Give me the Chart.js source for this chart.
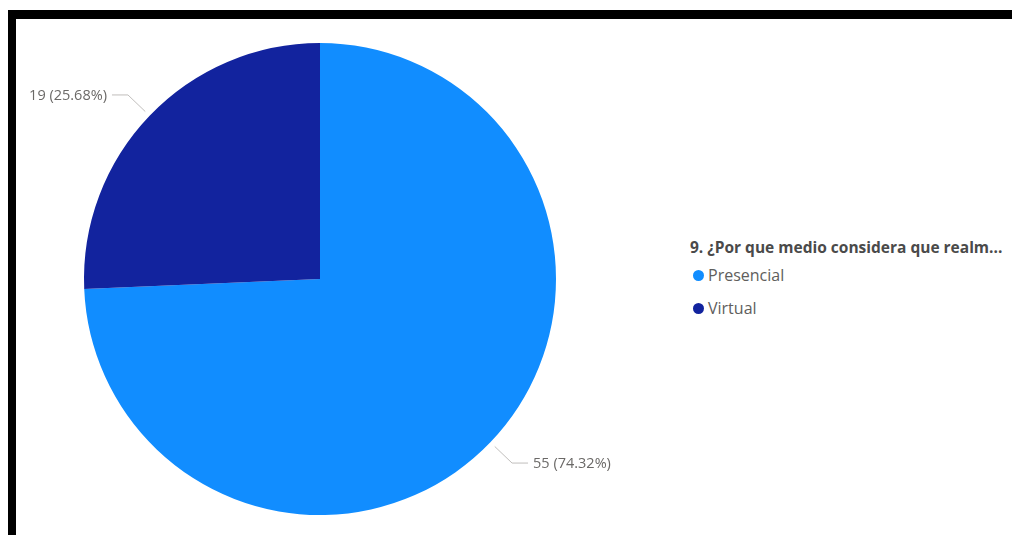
<!DOCTYPE html>
<html>
<head>
<meta charset="utf-8">
<script src="https://cdn.jsdelivr.net/npm/chart.js@4/dist/chart.umd.min.js"></script>
<style>
  html, body { margin: 0; padding: 0; background: #fff; overflow: hidden; }
  body { width: 1012px; height: 535px; position: relative; font-family: "Open Sans", "Noto Sans", sans-serif; }
  .frame { position: absolute; left: 8px; top: 10px; width: 1100px; height: 600px;
           border-top: 9px solid #000; border-left: 8px solid #000; box-sizing: border-box; }
  #wrap { position: absolute; left: 0; top: 0; width: 640px; height: 535px; }
  #legend { position: absolute; left: 690px; top: 237px; white-space: nowrap; }
  #legend .title { font-weight: 700; font-size: 15.5px; color: #4a4a4a; margin-bottom: 6px; line-height: 21px; }
  #legend .item { font-size: 16px; color: #605e5c; height: 33px; line-height: 22px; display: flex; align-items: flex-start; }
  #legend .dot { width: 11px; height: 11px; border-radius: 50%; margin: 6px 4px 0 3px; }
</style>
</head>
<body>
<div class="frame"></div>
<div id="wrap"><canvas id="pie"></canvas></div>
<div id="legend"></div>
<script>
  const legendTitle = '9. ¿Por que medio considera que realm...';
  const categories = ['Presencial', 'Virtual'];
  const counts = [55, 19];
  const colors = ['#118dff', '#12239e'];

  const total = counts.reduce((a, b) => a + b, 0);
  const pct = (v) => (v / total * 100).toFixed(2) + '%';

  // Outside labels with a short elbow leader, placed from each arc's own geometry.
  const leaderLabels = {
    id: 'leaderLabels',
    afterDatasetsDraw(chart) {
      const ctx = chart.ctx;
      const meta = chart.getDatasetMeta(0);
      ctx.save();
      ctx.font = '14.5px "Open Sans", "Noto Sans", sans-serif';
      ctx.textBaseline = 'middle';
      meta.data.forEach((arc, i) => {
        const { x, y, startAngle, endAngle, outerRadius } = arc.getProps(['x', 'y', 'startAngle', 'endAngle', 'outerRadius'], true);
        const mid = (startAngle + endAngle) / 2;
        const cos = Math.cos(mid), sin = Math.sin(mid);
        const x0 = x + cos * (outerRadius + 6), y0 = y + sin * (outerRadius + 6);
        const x1 = x + cos * (outerRadius + 30), y1 = y + sin * (outerRadius + 30);
        const dir = cos >= 0 ? 1 : -1;
        const x2 = x1 + dir * 16;
        ctx.strokeStyle = '#c0bebc';
        ctx.lineWidth = 1;
        ctx.beginPath();
        ctx.moveTo(x0, y0);
        ctx.lineTo(x1, y1);
        ctx.lineTo(x2, y1);
        ctx.stroke();
        ctx.fillStyle = '#6b6967';
        ctx.textAlign = dir > 0 ? 'left' : 'right';
        ctx.fillText(`${counts[i]} (${pct(counts[i])})`, x2 + dir * 5, y1 + 1);
      });
      ctx.restore();
    },
  };

  const chart = new Chart(document.getElementById('pie'), {
    type: 'pie',
    data: {
      labels: categories,
      datasets: [{
        data: counts,
        backgroundColor: colors,
        borderWidth: 0,
      }],
    },
    options: {
      responsive: true,
      maintainAspectRatio: false,
      animation: false,
      layout: { padding: { top: 43, bottom: 20, left: 84, right: 84 } },
      plugins: { legend: { display: false }, tooltip: { enabled: false } },
    },
    plugins: [leaderLabels],
  });

  // HTML legend built from the chart's own legend items.
  const legendEl = document.getElementById('legend');
  const titleEl = document.createElement('div');
  titleEl.className = 'title';
  titleEl.textContent = legendTitle;
  legendEl.appendChild(titleEl);
  chart.options.plugins.legend.labels.generateLabels(chart).forEach((item) => {
    const row = document.createElement('div');
    row.className = 'item';
    const dot = document.createElement('span');
    dot.className = 'dot';
    dot.style.background = item.fillStyle;
    const txt = document.createElement('span');
    txt.textContent = item.text;
    row.appendChild(dot);
    row.appendChild(txt);
    legendEl.appendChild(row);
  });
</script>
</body>
</html>
